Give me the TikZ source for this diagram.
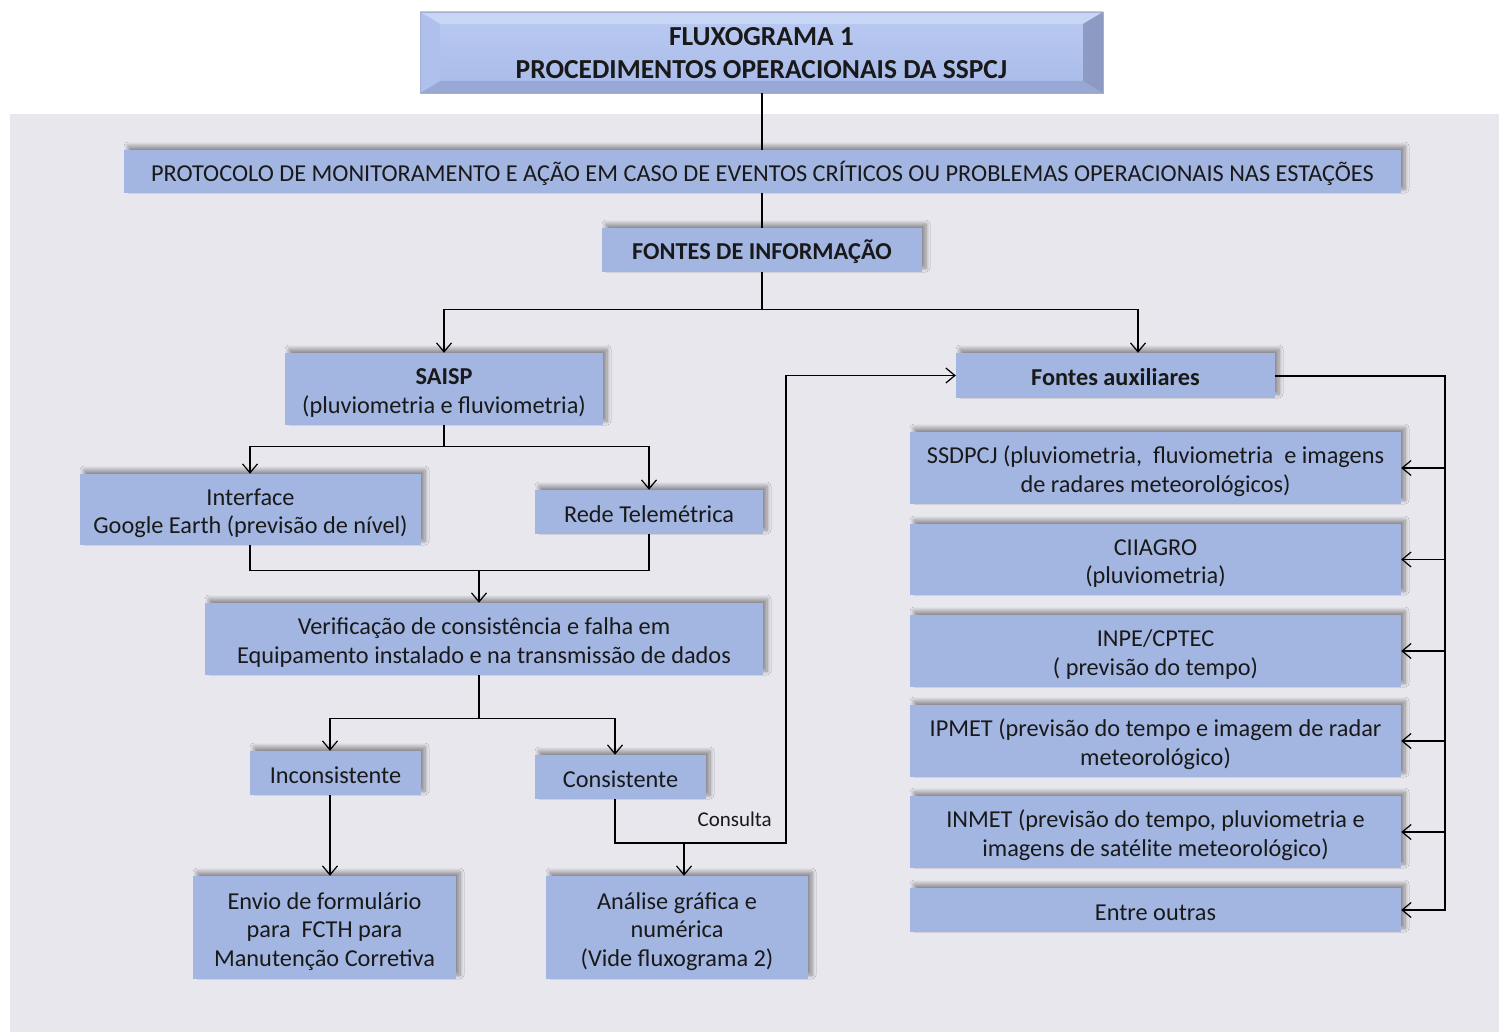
\documentclass[tikz,border=0pt]{standalone}
\usepackage{fontspec}
\setmainfont{Carlito}
\usetikzlibrary{arrows.meta,shadows.blur,calc}
\definecolor{boxblue}{RGB}{163,182,226}
\definecolor{panelbg}{RGB}{233,231,238}
\definecolor{txt}{RGB}{25,25,25}
\definecolor{bevT}{RGB}{200,214,246}
\definecolor{bevL}{RGB}{176,192,236}
\definecolor{bevB}{RGB}{152,168,212}
\definecolor{bevR}{RGB}{140,154,196}
\definecolor{tTop}{RGB}{186,202,242}
\definecolor{tBot}{RGB}{168,186,232}
\newcommand\bxfont{\fontsize{24.3}{28.5}\selectfont}
\newcommand\fs{\rule{0pt}{26pt}}
\newcommand\ls{\rule[-6pt]{0pt}{6pt}}
\newcommand\tfs{\rule{0pt}{28pt}}
\newcommand\tls{\rule[-8pt]{0pt}{8pt}}
\begin{document}
\begin{tikzpicture}[x=1pt,y=-1pt,
  every node/.style={text=txt},
  bx/.style={fill=boxblue, inner sep=0pt, align=center,
    font=\bxfont,
    blur shadow={shadow xshift=4pt, shadow yshift=4pt, shadow opacity=40, shadow blur radius=4pt, shadow blur steps=8}},
  ln/.style={line width=1.2pt, black},
  arr/.style={ln, -{Straight Barb[length=9pt,width=15pt]}},
  titlebox/.style={inner sep=0pt, align=center, minimum width=683pt, minimum height=81pt,
    top color=tTop, bottom color=tBot, font=\fontsize{27.5}{33}\selectfont\bfseries,
    path picture={
      \fill[bevT] (path picture bounding box.north west) -- (path picture bounding box.north east)
        -- ([xshift=-20pt,yshift=-12pt]path picture bounding box.north east) -- ([xshift=20pt,yshift=-12pt]path picture bounding box.north west) -- cycle;
      \fill[bevB] (path picture bounding box.south west) -- (path picture bounding box.south east)
        -- ([xshift=-20pt,yshift=12pt]path picture bounding box.south east) -- ([xshift=20pt,yshift=12pt]path picture bounding box.south west) -- cycle;
      \fill[bevL] (path picture bounding box.north west) -- ([xshift=20pt,yshift=-12pt]path picture bounding box.north west)
        -- ([xshift=20pt,yshift=12pt]path picture bounding box.south west) -- (path picture bounding box.south west) -- cycle;
      \fill[bevR] (path picture bounding box.north east) -- ([xshift=-20pt,yshift=-12pt]path picture bounding box.north east)
        -- ([xshift=-20pt,yshift=12pt]path picture bounding box.south east) -- (path picture bounding box.south east) -- cycle;
    }}
]
\useasboundingbox (0,0) rectangle (1499,1032);
\fill[white] (0,0) rectangle (1499,1032);
\fill[panelbg] (10,114) rectangle (1499,1032);

% nodes
\node[titlebox, draw=bevR!80, line width=0.6pt] (title) at (761.5,52.5) {\tfs FLUXOGRAMA 1\\PROCEDIMENTOS OPERACIONAIS DA SSPCJ\tls};
\node[bx, minimum width=1277pt, minimum height=43pt] (prot) at (762.5,171.5)
  {\fs PROTOCOLO DE MONITORAMENTO E AÇÃO EM CASO DE EVENTOS CRÍTICOS OU PROBLEMAS OPERACIONAIS NAS ESTAÇÕES\ls};
\node[bx, minimum width=320pt, minimum height=44pt, font=\bxfont\bfseries] (fontes) at (762,250) {\fs FONTES DE INFORMAÇÃO\ls};
\node[bx, minimum width=318pt, minimum height=72pt] (saisp) at (444,389) {\fs\textbf{SAISP}\\(pluviometria e fluviometria)\ls};
\node[bx, minimum width=319pt, minimum height=45pt, font=\bxfont\bfseries] (aux) at (1115.5,375.5) {\fs Fontes auxiliares\ls};
\node[bx, minimum width=341pt, minimum height=71pt] (iface) at (250.5,509.5) {\fs Interface\\Google Earth (previsão de nível)\ls};
\node[bx, minimum width=228pt, minimum height=44pt] (rede) at (649,512) {\fs Rede Telemétrica\ls};
\node[bx, minimum width=558pt, minimum height=72pt] (verif) at (484,639) {\fs Verificação de consistência e falha em\\Equipamento instalado e na transmissão de dados\ls};
\node[bx, minimum width=171pt, minimum height=44pt] (incon) at (335.5,773) {\fs Inconsistente\ls};
\node[bx, minimum width=171pt, minimum height=44pt] (cons) at (620.5,777) {\fs Consistente\ls};
\node[bx, minimum width=263pt, minimum height=103pt] (envio) at (324.5,927.5) {\fs Envio de formulário\\para~ FCTH para\\Manutenção Corretiva\ls};
\node[bx, minimum width=262pt, minimum height=103pt] (anal) at (677,927.5) {\fs Análise gráfica e\\numérica\\(Vide fluxograma 2)\ls};

\node[bx, minimum width=491pt, minimum height=72pt] (r1) at (1155.5,468) {\fs SSDPCJ (pluviometria,~ fluviometria~ e imagens\\de radares meteorológicos)\ls};
\node[bx, minimum width=491pt, minimum height=71pt] (r2) at (1155.5,559.5) {\fs CIIAGRO\\(pluviometria)\ls};
\node[bx, minimum width=491pt, minimum height=72pt] (r3) at (1155.5,651) {\fs INPE/CPTEC\\( previsão do tempo)\ls};
\node[bx, minimum width=491pt, minimum height=72pt] (r4) at (1155.5,741) {\fs IPMET (previsão do tempo e imagem de radar\\meteorológico)\ls};
\node[bx, minimum width=491pt, minimum height=72pt] (r5) at (1155.5,832) {\fs INMET (previsão do tempo, pluviometria e\\imagens de satélite meteorológico)\ls};
\node[bx, minimum width=491pt, minimum height=44pt] (r6) at (1155.5,910) {\fs Entre outras\ls};

% connectors
\draw[ln] ([xshift=0.5pt]title.south) -- (prot.north -| 762,0);
\draw[ln] (prot.south -| 762,0) -- (fontes.north);
\coordinate (b1) at ($(fontes.south)+(0,37)$);
\draw[ln] (fontes.south) -- (b1);
\draw[arr] (b1) -| (saisp.north);
\draw[arr] (b1) -| ([xshift=22.5pt]aux.north);

\coordinate (b2) at ($(saisp.south)+(0,21)$);
\draw[ln] (saisp.south) -- (b2);
\draw[arr] (b2) -| ([xshift=-0.5pt]iface.north);
\draw[arr] (b2) -| (rede.north);

\draw[ln] ([xshift=-0.5pt]iface.south) -- ++(0,25) -| (rede.south);
\coordinate (b3) at (479,570);
\draw[arr] (b3) -- (b3 |- verif.north);

\coordinate (b4) at ($([xshift=-5pt]verif.south)+(0,43)$);
\draw[ln] ([xshift=-5pt]verif.south) -- (b4);
\draw[arr] (b4) -| ([xshift=-5.5pt]incon.north);
\draw[arr] (b4) -| ([xshift=-5.5pt]cons.north);

\draw[arr] ([xshift=-5.5pt]incon.south) -- ([xshift=-5.5pt]incon.south |- envio.north);

\coordinate (bus) at (786,843);
\draw[arr] ([xshift=-5.5pt]cons.south) |- (bus) |- (aux.west);
\coordinate (b6) at (684,843);
\draw[arr] (b6) -- (b6 |- anal.north);
\node[font=\fontsize{21}{24}\selectfont, anchor=east, inner sep=0pt] (consulta) at (772,819) {Consulta};

\coordinate (rt) at (1445,376);
\coordinate (rb) at (1445,911);
\draw[ln] (aux.east |- rt) -- (rt) -- (rb);
\foreach \n in {r1,r2,r3,r4,r5,r6}{
  \draw[arr] (rt |- \n.east) -- (\n.east);
}
\end{tikzpicture}
\end{document}
